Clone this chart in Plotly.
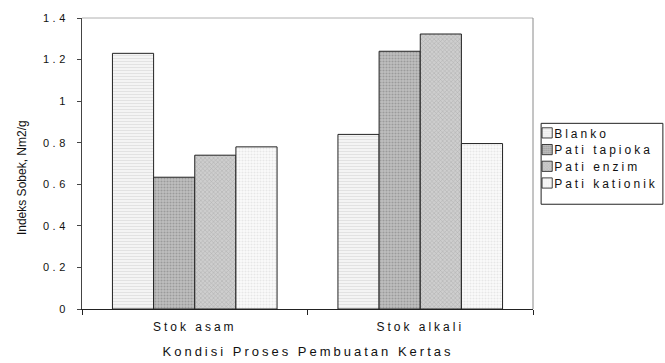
import plotly.graph_objects as go

categories = ["Stok asam", "Stok alkali"]
series_names = ["Blanko", "Pati tapioka", "Pati enzim", "Pati kationik"]
blanko = [1.23, 0.84]
pati_tapioka = [0.634, 1.24]
pati_enzim = [0.74, 1.323]
pati_kationik = [0.78, 0.796]
y_ticks = [0, 0.2, 0.4, 0.6, 0.8, 1, 1.2, 1.4]

series_values = [blanko, pati_tapioka, pati_enzim, pati_kationik]
patterns = [
    dict(shape="-", bgcolor="#f4f4f4", fgcolor="#cfcfcf", size=3, solidity=0.35),
    dict(shape=".", bgcolor="#c0c0c0", fgcolor="#767676", size=3, solidity=0.4),
    dict(shape="x", bgcolor="#cecece", fgcolor="#8a8a8a", size=3, solidity=0.3),
    dict(shape=".", bgcolor="#fbfbfb", fgcolor="#d4d4d4", size=3, solidity=0.4),
]

fig = go.Figure()
for name, vals, pat in zip(series_names, series_values, patterns):
    fig.add_trace(go.Bar(
        name=name, x=categories, y=vals,
        marker=dict(color=pat["bgcolor"], pattern=pat,
                    line=dict(color="#222222", width=1)),
    ))

font_family = "Liberation Sans, Arial, sans-serif"
fig.update_layout(
    width=665, height=363,
    margin=dict(l=82, r=132, t=16, b=54),
    paper_bgcolor="white", plot_bgcolor="white",
    barmode="group", bargap=0.27, bargroupgap=0,
    font=dict(family=font_family, size=11, color="#111111"),
    showlegend=True,
    legend=dict(x=0.987, xanchor="left", y=0.655, yanchor="top",
                bgcolor="rgba(0,0,0,0)", borderwidth=0,
                font=dict(size=12), tracegroupgap=0, itemwidth=30),
    xaxis=dict(
        showgrid=False, showline=True, linecolor="#222222", linewidth=1,
        ticks="outside", ticklen=5, tickcolor="#222222", tickson="boundaries",
        tickfont=dict(size=12), ticklabelstandoff=7,
    ),
    yaxis=dict(
        range=[0, 1.4], tickvals=y_ticks, showgrid=False, zeroline=False,
        showline=True, linecolor="#444444", linewidth=1,
        ticks="outside", ticklen=4, tickcolor="#444444",
        tickfont=dict(size=11), ticklabelstandoff=6,
    ),
    annotations=[
        dict(text="Kondisi Proses Pembuatan Kertas", xref="paper", yref="paper",
             x=0.5, y=-0.147, xanchor="center", yanchor="middle",
             showarrow=False, font=dict(size=13)),
        dict(text="Indeks Sobek, Nm2/g", xref="paper", yref="paper",
             x=-0.133, y=0.45, xanchor="center", yanchor="middle",
             textangle=-90, showarrow=False, font=dict(size=12)),
    ],
    shapes=[
        dict(type="line", xref="paper", yref="paper", x0=0, x1=1, y0=1, y1=1,
             line=dict(color="#b0b0b0", width=1)),
        dict(type="line", xref="paper", yref="paper", x0=1, x1=1, y0=0, y1=1,
             line=dict(color="#8a8a8a", width=1)),
        dict(type="rect", xref="paper", yref="paper", x0=1.018, x1=1.288,
             y0=0.36, y1=0.638, line=dict(color="#222222", width=1)),
    ],
)

# Spaced-out lettering, tighter legend rows and smaller legend swatches.
spacing_js = """
var gd = document.getElementById('{plot_id}');
gd.querySelectorAll('.xtick text').forEach(function(t){t.style.letterSpacing='3px';});
gd.querySelectorAll('.ytick text').forEach(function(t){t.style.letterSpacing='3.5px';});
gd.querySelectorAll('.annotation[data-index="0"] text').forEach(function(t){t.style.letterSpacing='3px';});
gd.querySelectorAll('.legend .scrollbox').forEach(function(s){s.removeAttribute('clip-path');});
var rows = gd.querySelectorAll('.legend .traces');
var y0 = null;
rows.forEach(function(g, i){
  var m = /translate\\(([-\\d.]+),\\s*([-\\d.]+)\\)/.exec(g.getAttribute('transform') || '');
  var x = m ? parseFloat(m[1]) : 0;
  var y = m ? parseFloat(m[2]) : 0;
  if (y0 === null) { y0 = y; }
  g.setAttribute('transform', 'translate(' + x + ',' + (y0 + 16.7 * i) + ')');
  var t = g.querySelector('.legendtext');
  if (t) { t.setAttribute('x', '27'); t.style.letterSpacing = '3px'; }
  g.querySelectorAll('.legendpoints path').forEach(function(p){
    p.setAttribute('transform', 'translate(20,0) scale(0.85)');
  });
});
"""

fig.write_html("out.html", post_script=spacing_js)
